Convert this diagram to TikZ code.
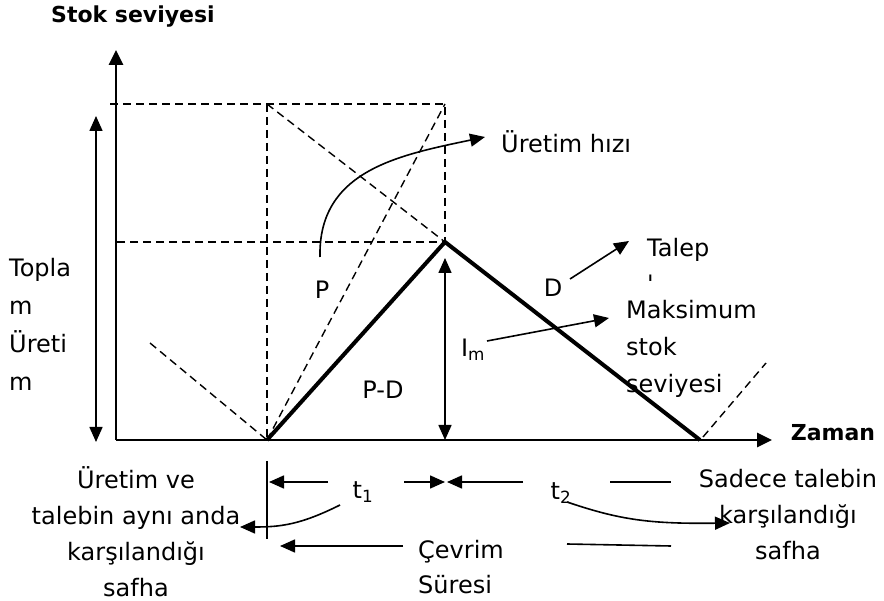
\documentclass[tikz,border=0pt]{standalone}
\usepackage{fontspec}
\setmainfont{DejaVu Sans}
\usepackage{tikz}
\usetikzlibrary{arrows.meta,positioning}

\begin{document}
\begin{tikzpicture}[x=1pt, y=-1pt,
        every node/.style={font=\fontsize{24}{36}\selectfont, inner sep=0pt},
        axis/.style={line width=2.6pt, -{Triangle[length=15pt,width=14pt]}},
        stock/.style={line width=4pt, line join=miter},
        guide/.style={line width=1.4pt, dash pattern=on 8pt off 5pt},
        pointer/.style={line width=1.6pt, -{Triangle[length=15pt,width=13pt]}},
        twoway/.style={line width=1.6pt, {Triangle[length=15pt,width=13pt]}-{Triangle[length=15pt,width=13pt]}},
        thinline/.style={line width=1.6pt},
        axlabel/.style={font=\fontsize{22}{26}\selectfont\bfseries}
      ]
        % feste Bildgroesse
        \useasboundingbox (0,0) rectangle (884,601);

        % Punkte
        \coordinate (o) at (116,440);
        \coordinate (ytop) at (116,50);
        \coordinate (xend) at (772,440);
        \coordinate (a0) at (267,440);
        \coordinate (pk) at (445,242);
        \coordinate (a1) at (700,440);
        \coordinate (tl) at (267,104);
        \coordinate (tr) at (445,104);
        \coordinate (tx) at (110,104);
        \coordinate (hl) at (116,242);
        \coordinate (dl) at (150,343);
        \coordinate (dr0) at (703,437);
        \coordinate (dr1) at (766,363);

        % Achsen
        \draw[axis] (o) -- (ytop);
        \draw[axis] (o) -- (xend);
        \node[axlabel] (stokT) at (133,17) {Stok seviyesi};
        \node[axlabel] (zamanT) at (833,433) {Zaman};

        % Hilfslinien (gestrichelt)
        \draw[guide] (tx) -- (tr) -- (pk) -- (hl);
        \draw[guide] (tl) -- (a0);
        \draw[guide] (a0) -- (tr);
        \draw[guide] (tl) -- (pk);
        \draw[guide] (dl) -- (a0);
        \draw[guide] (dr0) -- (dr1);

        % Lagerbestand
        \draw[stock] (a0) -- (pk) -- (a1);

        % Gesamtproduktion und Imax
        \coordinate (gp0) at (96,116);
        \coordinate (gp1) at (96,442);
        \draw[twoway] (gp0) -- (gp1);
        \coordinate (im0) at (445,258);
        \draw[twoway] (im0) -- (445,440) coordinate (im1);
        \node[align=left, anchor=north west, font=\fontsize{24}{38}\selectfont] (toplamT) at (9,258)
          {Topla\\m\\Üreti\\m};

        % Beschriftungen im Diagramm
        \node (pT) at (322,290) {P};
        \node (pdT) at (383,390) {P-D};
        \node (dT) at (553,288) {D};
        \node (imT) at (473,350) {I\textsubscript{m}};
        \node[anchor=west] (hizT) at (501,142) {Üretim hızı};
        \node[align=left, anchor=north west] (talepT) at (647,238) {Talep\\\textquotesingle};
        \node[align=left, anchor=north west, font=\fontsize{24}{37}\selectfont] (maksT) at (626,300)
          {Maksimum\\stok\\seviyesi};

        \coordinate (c0) at (320,257);
        \coordinate (c1) at (485,137);
        \draw[pointer] (c0) .. controls (318,170) and (400,155) .. (c1);
        \coordinate (d0) at (570,279);
        \coordinate (d1) at (629,241);
        \draw[pointer] (d0) -- (d1);
        \coordinate (m0) at (487,341);
        \coordinate (m1) at (609,318);
        \draw[pointer] (m0) -- (m1);

        % Zeitabschnitte unten
        \coordinate (v0) at (267,461);
        \coordinate (v1) at (267,539);
        \draw[thinline] (v0) -- (v1);
        \node (t1T) at (363,492) {t\textsubscript{1}};
        \node (t2T) at (561,493) {t\textsubscript{2}};
        \draw[pointer] (328,482) coordinate (p1) -- (269,482) coordinate (p2);
        \draw[pointer] (404,482) coordinate (p3) -- (445,482) coordinate (p4);
        \draw[pointer] (523,482) coordinate (p5) -- (447,482) coordinate (p6);
        \draw[thinline] (610,482) coordinate (p7) -- (671,482) coordinate (p8);
        \draw[thinline] (567,544) coordinate (p9) -- (671,546) coordinate (p10);
        \draw[pointer] (403,546) coordinate (p11) -- (280,546) coordinate (p12);

        \coordinate (e0) at (340,505);
        \coordinate (e1) at (240,527);
        \draw[pointer] (e0) .. controls (300,525) and (280,527) .. (e1);
        \coordinate (f0) at (567,502);
        \coordinate (f1) at (730,523);
        \draw[pointer] (f0) .. controls (620,520) and (650,524) .. (f1);

        \node[align=center, anchor=north] (ortakT) at (136,466)
          {Üretim ve\\talebin aynı anda\\karşılandığı\\safha};
        \node[align=center, anchor=north] (sadeceT) at (788,469)
          {Sadece talebin\\karşılandığı\\safha};
        \node[align=left, anchor=north west, font=\fontsize{24}{35}\selectfont] (cevrimT) at (418,540)
          {Çevrim\\Süresi};
      \end{tikzpicture}
\end{document}
